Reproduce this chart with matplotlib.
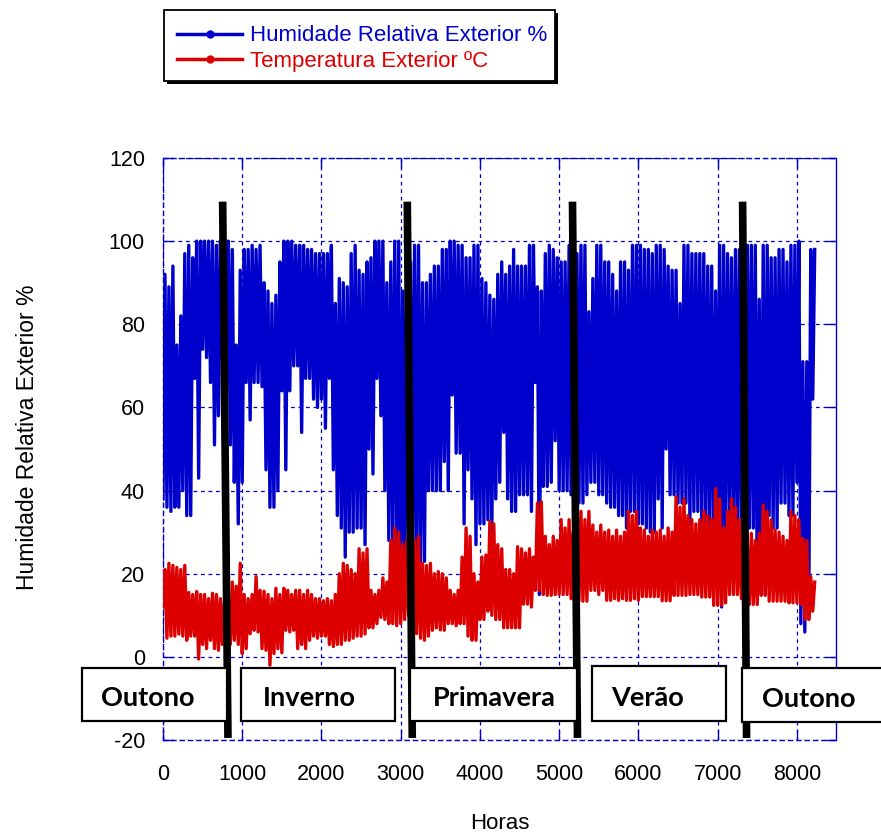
import numpy as np
import matplotlib.pyplot as plt
from matplotlib.lines import Line2D
from matplotlib.patches import Rectangle

plt.rcParams['font.family'] = ['Liberation Sans', 'DejaVu Sans']
plt.rcParams['axes.unicode_minus'] = False

# hourly records summarised in 50 h blocks: lowest and highest value of each block
bloco = 50
hum_min = [
    38, 36, 35, 36, 36, 40, 34, 34, 67, 43,
    74, 72, 66, 51, 58, 72, 66, 51, 42, 32,
    42, 66, 57, 66, 66, 65, 45, 36, 36, 40,
    64, 45, 64, 70, 70, 54, 67, 67, 62, 60,
    62, 55, 67, 45, 34, 31, 24, 30, 30, 31,
    31, 27, 50, 44, 67, 58, 40, 28, 27, 27,
    11, 25, 23, 23, 23, 23, 23, 40, 40, 40,
    40, 47, 40, 63, 49, 49, 32, 45, 38, 27,
    32, 32, 33, 30, 38, 42, 54, 38, 35, 35,
    39, 39, 39, 35, 66, 15, 41, 41, 42, 52,
    40, 40, 40, 39, 39, 37, 37, 39, 42, 42,
    39, 39, 37, 36, 36, 34, 34, 31, 35, 35,
    32, 32, 31, 30, 30, 38, 31, 50, 39, 39,
    37, 37, 37, 32, 35, 35, 32, 32, 31, 30,
    30, 12, 30, 34, 30, 30, 30, 30, 31, 31,
    15, 15, 15, 34, 31, 31, 37, 37, 34, 34,
    42, 8, 6, 10, 62,
]
hum_max = [
    92, 89, 94, 75, 82, 97, 99, 96, 100, 100,
    100, 100, 100, 99, 100, 99, 100, 98, 75, 93,
    98, 98, 99, 98, 99, 90, 88, 85, 87, 95,
    100, 100, 100, 99, 99, 99, 98, 98, 97, 97,
    97, 97, 99, 85, 91, 90, 89, 97, 99, 93,
    92, 95, 96, 100, 100, 100, 90, 95, 100, 100,
    88, 92, 95, 99, 99, 90, 90, 92, 94, 94,
    98, 98, 100, 100, 99, 99, 96, 96, 99, 99,
    91, 90, 87, 86, 92, 95, 92, 94, 98, 94,
    94, 94, 99, 99, 89, 88, 97, 99, 98, 96,
    95, 95, 99, 98, 97, 99, 99, 83, 91, 99,
    99, 95, 95, 92, 88, 95, 95, 93, 99, 99,
    99, 98, 98, 97, 99, 99, 98, 94, 93, 93,
    85, 99, 99, 97, 97, 97, 97, 94, 94, 88,
    99, 99, 97, 96, 98, 98, 99, 99, 99, 99,
    86, 99, 99, 96, 96, 98, 98, 95, 99, 99,
    100, 71, 71, 98, 98,
]
temp_min = [
    12, 4.5, 5, 5, 5.5, 5, 4, 5, 5, -0.5,
    3, 2, 4, 2, 1.6, 3, 4, 3, 4, 3,
    0.8, 2, 5.6, 6.4, 6, 2, 1.6, -2, 0.8, 2,
    1, 6.4, 6, 6.4, 2, 3, 2, 4, 5, 4.5,
    5, 5, 3, 2.5, 3, 3, 4, 4, 4.5, 5,
    5, 5.5, 7, 7, 8, 9.5, 9, 8, 8, 7.5,
    8, 9, 10, 8, 5.6, 4.5, 4, 5, 6.4, 7,
    6.5, 6.4, 8, 8, 7.5, 8, 8, 5, 4, 4,
    9, 9, 11, 10, 9, 9, 7, 7, 7, 7,
    7, 12.7, 12.7, 12, 16, 16, 15, 14.8, 14.8, 15,
    15, 15, 15, 14, 14, 13.4, 13.4, 13.4, 16, 16,
    15, 16, 13.6, 13.6, 14, 13.6, 14, 13.6, 13.6, 14,
    13.6, 14.5, 14.5, 14.5, 14.5, 14.5, 13.5, 13.5, 13.5, 14.8,
    14.8, 14.8, 14.8, 15, 15, 15, 14.4, 14.4, 14.4, 12.4,
    12.4, 12.4, 13, 15, 15, 15, 14, 13, 12.6, 12.6,
    12.6, 14.8, 14.8, 13.4, 13.4, 13.4, 13.4, 13.4, 13, 13,
    13, 12.6, 9, 9, 11,
]
temp_max = [
    21, 22.5, 22, 21.5, 21, 22, 15.5, 15, 15.7, 15,
    15, 14, 15.3, 15, 14, 13, 14, 18, 17, 22.5,
    15, 14, 15, 19.3, 16, 15.8, 15, 14, 16.5, 15,
    16.5, 16, 15, 16, 16, 15, 16, 15, 14, 14,
    13.5, 14, 13.5, 15, 20, 22.5, 22, 21, 20, 26,
    25, 26, 16, 15, 16, 19, 18, 28, 31, 30,
    27, 28, 29, 28, 29, 22.5, 22, 22.5, 20, 20.5,
    20, 19, 16, 15, 16, 24, 31, 29, 20, 18,
    24, 24.5, 32.6, 32, 27, 26, 21, 21, 20, 26.5,
    26, 25, 26, 24, 37, 37.3, 29, 27, 29, 28,
    33, 31, 33, 30, 32, 35, 33, 35, 31.7, 30,
    31.7, 30, 30.5, 29, 30.5, 29, 30, 35, 34, 35,
    31, 30.5, 29, 30.5, 30, 30.5, 29, 31, 30, 38.5,
    36, 38, 34, 33, 32, 33, 35, 34, 33, 40.5,
    38, 31, 35, 38, 36, 33, 29, 27, 29.7, 28,
    29.7, 36.5, 35, 33, 30.5, 30, 29, 28, 35, 34,
    33, 28.5, 28, 19.3, 18,
]

# season boundaries (slanted marker lines): hour at top, hour at bottom
divisoes_topo = [753, 3083, 5168, 7315]
divisoes_base = [820, 3146, 5231, 7365]
estacoes = ['Outono', 'Inverno', 'Primavera', 'Verão', 'Outono']

azul = '#0000cc'
vermelho = '#dd0000'


def serie(minimos, maximos):
    # trace low -> high inside every block, like the raw hourly swing
    h = np.arange(len(minimos)) * bloco
    x = np.column_stack((h, h + bloco / 2)).ravel()
    y = np.column_stack((minimos, maximos)).ravel()
    return x, y


fig = plt.figure(figsize=(8.81, 8.36), dpi=100)
ax = fig.add_axes([0.185, 0.1148, 0.7636, 0.6962])

xh, yh = serie(hum_min, hum_max)
xt, yt = serie(temp_min, temp_max)
ax.plot(xh, yh, color=azul, lw=2.4, zorder=3)
ax.plot(xt, yt, color=vermelho, lw=2.4, zorder=4)

for xa, xb in zip(divisoes_topo, divisoes_base):
    ax.plot([xa, xb], [109.5, -19.5], color='black', lw=5.5, solid_capstyle='butt',
            zorder=6, clip_on=False)

ax.set_xlim(0, 8490)
ax.set_ylim(-20, 120)
ax.set_xticks(range(0, 8001, 1000))
ax.set_yticks(range(-20, 121, 20))
ax.grid(True, color=azul, ls=(0, (3, 3)), lw=0.9)
ax.tick_params(direction='in', length=7, width=1, color=azul, labelsize=15.5,
               top=True, right=True)
ax.tick_params(axis='x', pad=17)
ax.tick_params(axis='y', pad=13)
for lado, s in ax.spines.items():
    s.set_color(azul)
    s.set_linewidth(1.0)
    if lado != 'right':
        s.set_linestyle((0, (3, 3)))

ax.set_xlabel('Horas', fontsize=16)
ax.xaxis.set_label_coords(0.5, -0.125)
ax.set_ylabel('Humidade Relativa Exterior %', fontsize=16.5)
ax.yaxis.set_label_coords(-0.184, 0.52)

W, H = 881, 836


def caixa(x0, y0, x1, y1, lw=1.6, sombra=0):
    # framed white box given in figure pixels (origin top-left)
    if sombra:
        fig.add_artist(Rectangle(((x0 + sombra) / W, 1 - (y1 + sombra) / H),
                                 (x1 - x0) / W, (y1 - y0) / H,
                                 transform=fig.transFigure, facecolor='black',
                                 edgecolor='none', zorder=9))
    fig.add_artist(Rectangle((x0 / W, 1 - y1 / H), (x1 - x0) / W, (y1 - y0) / H,
                             transform=fig.transFigure, facecolor='white',
                             edgecolor='black', lw=lw, zorder=10))


# season label boxes
caixas = [(82, 668, 227, 721), (241, 668, 395, 721), (410, 668, 577, 721),
          (592, 666, 726, 721), (742, 668, 895, 722)]
centros = [148, 309, 494, 648, 809]
for (x0, y0, x1, y1), cx, nome in zip(caixas, centros, estacoes):
    caixa(x0, y0, x1, y1)
    fig.text(cx / W, 1 - ((y0 + y1) / 2 + 4) / H, nome, ha='center', va='center',
             fontsize=19.5, fontweight='bold', family='Lato', zorder=11)

# legend with a drop-shadowed frame
caixa(164, 10, 555, 81, lw=1.3, sombra=3)
handles = [Line2D([], [], color=azul, lw=2.5, marker='o', markersize=5),
           Line2D([], [], color=vermelho, lw=2.5, marker='o', markersize=5)]
leg = fig.legend(handles, ['Humidade Relativa Exterior %', 'Temperatura Exterior ºC'],
                 loc='upper left', bbox_to_anchor=(164 / W, 1 - 12 / H),
                 borderaxespad=0, fontsize=16, numpoints=1, handlelength=2.9,
                 handletextpad=0.35, labelspacing=0.2, borderpad=0.6,
                 frameon=False, labelcolor='linecolor')
leg.set_zorder(12)

fig.savefig('out.png', dpi=100)
